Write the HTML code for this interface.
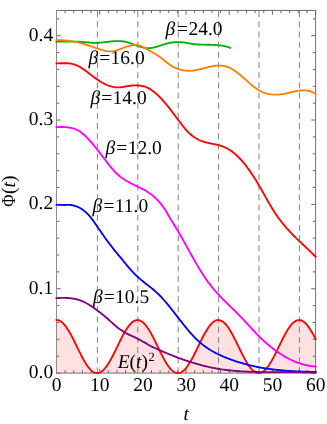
<!DOCTYPE html>
<html><head><meta charset="utf-8"><title>plot</title>
<style>
html,body{margin:0;padding:0;background:#fff;}
svg{display:block;will-change:transform;}
text{text-rendering:geometricPrecision;-webkit-font-smoothing:antialiased;font-family:"Liberation Serif",serif;font-size:19.5px;fill:#000;}
.it{font-style:italic;}
</style></head><body>
<svg width="327" height="424" viewBox="0 0 327 424">
<rect width="327" height="424" fill="#fff"/>

<path d="M56.50,320.05 L57.15,320.06 L57.80,320.14 L58.45,320.29 L59.10,320.50 L59.75,320.79 L60.40,321.13 L61.05,321.54 L61.69,322.02 L62.34,322.56 L62.99,323.16 L63.64,323.82 L64.29,324.54 L64.94,325.31 L65.59,326.14 L66.24,327.02 L66.89,327.95 L67.54,328.92 L68.19,329.95 L68.84,331.01 L69.49,332.11 L70.14,333.26 L70.79,334.43 L71.44,335.64 L72.08,336.87 L72.73,338.13 L73.38,339.41 L74.03,340.71 L74.68,342.02 L75.33,343.35 L75.98,344.68 L76.63,346.02 L77.28,347.36 L77.93,348.69 L78.58,350.03 L79.23,351.35 L79.88,352.66 L80.53,353.96 L81.18,355.23 L81.83,356.49 L82.47,357.72 L83.12,358.92 L83.77,360.09 L84.42,361.22 L85.07,362.32 L85.72,363.38 L86.37,364.39 L87.02,365.36 L87.67,366.28 L88.32,367.15 L88.97,367.97 L89.62,368.74 L90.27,369.44 L90.92,370.09 L91.57,370.68 L92.22,371.21 L92.86,371.67 L93.51,372.08 L94.16,372.41 L94.81,372.68 L95.46,372.89 L96.11,373.02 L96.76,373.09 L97.41,373.09 L98.06,373.03 L98.71,372.89 L99.36,372.69 L100.01,372.42 L100.66,372.09 L101.31,371.69 L101.96,371.23 L102.61,370.71 L103.25,370.12 L103.90,369.47 L104.55,368.77 L105.20,368.01 L105.85,367.19 L106.50,366.32 L107.15,365.40 L107.80,364.43 L108.45,363.42 L109.10,362.37 L109.75,361.27 L110.40,360.14 L111.05,358.97 L111.70,357.77 L112.35,356.54 L113.00,355.29 L113.64,354.01 L114.29,352.72 L114.94,351.41 L115.59,350.08 L116.24,348.75 L116.89,347.41 L117.54,346.07 L118.19,344.74 L118.84,343.40 L119.49,342.08 L120.14,340.76 L120.79,339.47 L121.44,338.18 L122.09,336.92 L122.74,335.69 L123.39,334.48 L124.03,333.31 L124.68,332.16 L125.33,331.06 L125.98,329.99 L126.63,328.97 L127.28,327.99 L127.93,327.06 L128.58,326.17 L129.23,325.34 L129.88,324.57 L130.53,323.85 L131.18,323.19 L131.83,322.58 L132.48,322.04 L133.13,321.56 L133.78,321.15 L134.42,320.80 L135.07,320.52 L135.72,320.30 L136.37,320.15 L137.02,320.06 L137.67,320.05 L138.32,320.10 L138.97,320.22 L139.62,320.40 L140.27,320.66 L140.92,320.98 L141.57,321.36 L142.22,321.81 L142.87,322.32 L143.52,322.89 L144.17,323.53 L144.81,324.22 L145.46,324.97 L146.11,325.78 L146.76,326.63 L147.41,327.54 L148.06,328.50 L148.71,329.50 L149.36,330.55 L150.01,331.64 L150.66,332.76 L151.31,333.92 L151.96,335.12 L152.61,336.34 L153.26,337.59 L153.91,338.86 L154.56,340.15 L155.20,341.46 L155.85,342.78 L156.50,344.11 L157.15,345.44 L157.80,346.78 L158.45,348.12 L159.10,349.46 L159.75,350.78 L160.40,352.10 L161.05,353.40 L161.70,354.69 L162.35,355.95 L163.00,357.19 L163.65,358.41 L164.30,359.59 L164.95,360.74 L165.59,361.85 L166.24,362.93 L166.89,363.96 L167.54,364.95 L168.19,365.89 L168.84,366.79 L169.49,367.63 L170.14,368.42 L170.79,369.15 L171.44,369.82 L172.09,370.44 L172.74,370.99 L173.39,371.48 L174.04,371.91 L174.69,372.28 L175.34,372.57 L175.98,372.81 L176.63,372.97 L177.28,373.07 L177.93,373.10 L178.58,373.06 L179.23,372.96 L179.88,372.79 L180.53,372.55 L181.18,372.24 L181.83,371.87 L182.48,371.44 L183.13,370.94 L183.78,370.38 L184.43,369.76 L185.08,369.08 L185.73,368.34 L186.37,367.55 L187.02,366.70 L187.67,365.80 L188.32,364.85 L188.97,363.86 L189.62,362.82 L190.27,361.74 L190.92,360.63 L191.57,359.47 L192.22,358.29 L192.87,357.07 L193.52,355.83 L194.17,354.56 L194.82,353.27 L195.47,351.97 L196.12,350.65 L196.76,349.32 L197.41,347.99 L198.06,346.65 L198.71,345.31 L199.36,343.97 L200.01,342.64 L200.66,341.32 L201.31,340.02 L201.96,338.73 L202.61,337.46 L203.26,336.21 L203.91,334.99 L204.56,333.80 L205.21,332.65 L205.86,331.53 L206.51,330.44 L207.15,329.40 L207.80,328.40 L208.45,327.45 L209.10,326.54 L209.75,325.69 L210.40,324.89 L211.05,324.15 L211.70,323.46 L212.35,322.83 L213.00,322.27 L213.65,321.76 L214.30,321.32 L214.95,320.94 L215.60,320.63 L216.25,320.38 L216.90,320.20 L217.54,320.09 L218.19,320.05 L218.84,320.07 L219.49,320.16 L220.14,320.32 L220.79,320.54 L221.44,320.83 L222.09,321.19 L222.74,321.61 L223.39,322.09 L224.04,322.64 L224.69,323.25 L225.34,323.92 L225.99,324.64 L226.64,325.43 L227.29,326.26 L227.93,327.15 L228.58,328.08 L229.23,329.07 L229.88,330.10 L230.53,331.17 L231.18,332.28 L231.83,333.42 L232.48,334.60 L233.13,335.81 L233.78,337.05 L234.43,338.31 L235.08,339.60 L235.73,340.90 L236.38,342.21 L237.03,343.54 L237.68,344.87 L238.32,346.21 L238.97,347.55 L239.62,348.89 L240.27,350.22 L240.92,351.54 L241.57,352.85 L242.22,354.14 L242.87,355.41 L243.52,356.67 L244.17,357.89 L244.82,359.09 L245.47,360.25 L246.12,361.38 L246.77,362.47 L247.42,363.53 L248.07,364.53 L248.71,365.50 L249.36,366.41 L250.01,367.27 L250.66,368.09 L251.31,368.84 L251.96,369.54 L252.61,370.18 L253.26,370.76 L253.91,371.28 L254.56,371.74 L255.21,372.13 L255.86,372.45 L256.51,372.72 L257.16,372.91 L257.81,373.04 L258.46,373.10 L259.10,373.09 L259.75,373.01 L260.40,372.87 L261.05,372.66 L261.70,372.38 L262.35,372.04 L263.00,371.63 L263.65,371.16 L264.30,370.62 L264.95,370.03 L265.60,369.37 L266.25,368.66 L266.90,367.89 L267.55,367.07 L268.20,366.19 L268.85,365.26 L269.49,364.29 L270.14,363.27 L270.79,362.21 L271.44,361.11 L272.09,359.97 L272.74,358.80 L273.39,357.59 L274.04,356.36 L274.69,355.10 L275.34,353.82 L275.99,352.53 L276.64,351.22 L277.29,349.89 L277.94,348.56 L278.59,347.22 L279.24,345.88 L279.88,344.54 L280.53,343.21 L281.18,341.89 L281.83,340.58 L282.48,339.28 L283.13,338.00 L283.78,336.74 L284.43,335.51 L285.08,334.31 L285.73,333.14 L286.38,332.00 L287.03,330.90 L287.68,329.84 L288.33,328.82 L288.98,327.85 L289.63,326.93 L290.27,326.05 L290.92,325.23 L291.57,324.46 L292.22,323.75 L292.87,323.10 L293.52,322.50 L294.17,321.97 L294.82,321.50 L295.47,321.09 L296.12,320.75 L296.77,320.48 L297.42,320.27 L298.07,320.13 L298.72,320.06 L299.37,320.05 L300.02,320.11 L300.66,320.24 L301.31,320.44 L301.96,320.70 L302.61,321.03 L303.26,321.42 L303.91,321.88 L304.56,322.40 L305.21,322.98 L305.86,323.63 L306.51,324.33 L307.16,325.08 L307.81,325.90 L308.46,326.76 L309.11,327.68 L309.76,328.64 L310.41,329.65 L311.05,330.70 L311.70,331.80 L312.35,332.93 L313.00,334.09 L313.65,335.29 L314.30,336.52 L314.95,337.77 L315.60,339.04 L315.60,373.10 L56.50,373.10 Z" fill="#ffe1e1" stroke="none"/>
<line x1="97.40" y1="373.40000000000003" x2="97.40" y2="10.4" stroke="#808080" stroke-width="1" stroke-dasharray="6,4.18"/>
<line x1="137.80" y1="373.40000000000003" x2="137.80" y2="10.4" stroke="#808080" stroke-width="1" stroke-dasharray="6,4.18"/>
<line x1="178.20" y1="373.40000000000003" x2="178.20" y2="10.4" stroke="#808080" stroke-width="1" stroke-dasharray="6,4.18"/>
<line x1="218.60" y1="373.40000000000003" x2="218.60" y2="10.4" stroke="#808080" stroke-width="1" stroke-dasharray="6,4.18"/>
<line x1="259.00" y1="373.40000000000003" x2="259.00" y2="10.4" stroke="#808080" stroke-width="1" stroke-dasharray="6,4.18"/>
<line x1="299.40" y1="373.40000000000003" x2="299.40" y2="10.4" stroke="#808080" stroke-width="1" stroke-dasharray="6,4.18"/>
<path d="M56.50,373.1 v-4.3 M56.50,10.4 v4.3 M65.14,373.1 v-2.8 M65.14,10.4 v2.8 M73.77,373.1 v-2.8 M73.77,10.4 v2.8 M82.41,373.1 v-2.8 M82.41,10.4 v2.8 M91.05,373.1 v-2.8 M91.05,10.4 v2.8 M99.68,373.1 v-4.3 M99.68,10.4 v4.3 M108.32,373.1 v-2.8 M108.32,10.4 v2.8 M116.96,373.1 v-2.8 M116.96,10.4 v2.8 M125.59,373.1 v-2.8 M125.59,10.4 v2.8 M134.23,373.1 v-2.8 M134.23,10.4 v2.8 M142.87,373.1 v-4.3 M142.87,10.4 v4.3 M151.50,373.1 v-2.8 M151.50,10.4 v2.8 M160.14,373.1 v-2.8 M160.14,10.4 v2.8 M168.78,373.1 v-2.8 M168.78,10.4 v2.8 M177.41,373.1 v-2.8 M177.41,10.4 v2.8 M186.05,373.1 v-4.3 M186.05,10.4 v4.3 M194.69,373.1 v-2.8 M194.69,10.4 v2.8 M203.32,373.1 v-2.8 M203.32,10.4 v2.8 M211.96,373.1 v-2.8 M211.96,10.4 v2.8 M220.60,373.1 v-2.8 M220.60,10.4 v2.8 M229.23,373.1 v-4.3 M229.23,10.4 v4.3 M237.87,373.1 v-2.8 M237.87,10.4 v2.8 M246.51,373.1 v-2.8 M246.51,10.4 v2.8 M255.14,373.1 v-2.8 M255.14,10.4 v2.8 M263.78,373.1 v-2.8 M263.78,10.4 v2.8 M272.42,373.1 v-4.3 M272.42,10.4 v4.3 M281.05,373.1 v-2.8 M281.05,10.4 v2.8 M289.69,373.1 v-2.8 M289.69,10.4 v2.8 M298.33,373.1 v-2.8 M298.33,10.4 v2.8 M306.96,373.1 v-2.8 M306.96,10.4 v2.8 M315.60,373.1 v-4.3 M315.60,10.4 v4.3 M56.5,373.10 h4.3 M315.6,373.10 h-4.3 M56.5,356.23 h2.8 M315.6,356.23 h-2.8 M56.5,339.36 h2.8 M315.6,339.36 h-2.8 M56.5,322.49 h2.8 M315.6,322.49 h-2.8 M56.5,305.62 h2.8 M315.6,305.62 h-2.8 M56.5,288.75 h4.3 M315.6,288.75 h-4.3 M56.5,271.88 h2.8 M315.6,271.88 h-2.8 M56.5,255.01 h2.8 M315.6,255.01 h-2.8 M56.5,238.14 h2.8 M315.6,238.14 h-2.8 M56.5,221.27 h2.8 M315.6,221.27 h-2.8 M56.5,204.40 h4.3 M315.6,204.40 h-4.3 M56.5,187.53 h2.8 M315.6,187.53 h-2.8 M56.5,170.66 h2.8 M315.6,170.66 h-2.8 M56.5,153.79 h2.8 M315.6,153.79 h-2.8 M56.5,136.92 h2.8 M315.6,136.92 h-2.8 M56.5,120.05 h4.3 M315.6,120.05 h-4.3 M56.5,103.18 h2.8 M315.6,103.18 h-2.8 M56.5,86.31 h2.8 M315.6,86.31 h-2.8 M56.5,69.44 h2.8 M315.6,69.44 h-2.8 M56.5,52.57 h2.8 M315.6,52.57 h-2.8 M56.5,35.70 h4.3 M315.6,35.70 h-4.3 M56.5,18.83 h2.8 M315.6,18.83 h-2.8" stroke="#555" stroke-width="0.9" fill="none"/>
<path d="M56.0,10.4 H316.1" stroke="#666" stroke-width="1" fill="none"/>
<path d="M315.6,10.4 V373.6" stroke="#707070" stroke-width="1" fill="none"/>
<path d="M56.5,10.4 V373.6" stroke="#8c8c8c" stroke-width="1" fill="none"/>
<path d="M56.0,373.1 H316.1" stroke="#707070" stroke-width="1" fill="none"/>
<path d="M56.50,320.05 L57.15,320.06 L57.80,320.14 L58.45,320.29 L59.10,320.50 L59.75,320.79 L60.40,321.13 L61.05,321.54 L61.69,322.02 L62.34,322.56 L62.99,323.16 L63.64,323.82 L64.29,324.54 L64.94,325.31 L65.59,326.14 L66.24,327.02 L66.89,327.95 L67.54,328.92 L68.19,329.95 L68.84,331.01 L69.49,332.11 L70.14,333.26 L70.79,334.43 L71.44,335.64 L72.08,336.87 L72.73,338.13 L73.38,339.41 L74.03,340.71 L74.68,342.02 L75.33,343.35 L75.98,344.68 L76.63,346.02 L77.28,347.36 L77.93,348.69 L78.58,350.03 L79.23,351.35 L79.88,352.66 L80.53,353.96 L81.18,355.23 L81.83,356.49 L82.47,357.72 L83.12,358.92 L83.77,360.09 L84.42,361.22 L85.07,362.32 L85.72,363.38 L86.37,364.39 L87.02,365.36 L87.67,366.28 L88.32,367.15 L88.97,367.97 L89.62,368.74 L90.27,369.44 L90.92,370.09 L91.57,370.68 L92.22,371.21 L92.86,371.67 L93.51,372.08 L94.16,372.41 L94.81,372.68 L95.46,372.89 L96.11,373.02 L96.76,373.09 L97.41,373.09 L98.06,373.03 L98.71,372.89 L99.36,372.69 L100.01,372.42 L100.66,372.09 L101.31,371.69 L101.96,371.23 L102.61,370.71 L103.25,370.12 L103.90,369.47 L104.55,368.77 L105.20,368.01 L105.85,367.19 L106.50,366.32 L107.15,365.40 L107.80,364.43 L108.45,363.42 L109.10,362.37 L109.75,361.27 L110.40,360.14 L111.05,358.97 L111.70,357.77 L112.35,356.54 L113.00,355.29 L113.64,354.01 L114.29,352.72 L114.94,351.41 L115.59,350.08 L116.24,348.75 L116.89,347.41 L117.54,346.07 L118.19,344.74 L118.84,343.40 L119.49,342.08 L120.14,340.76 L120.79,339.47 L121.44,338.18 L122.09,336.92 L122.74,335.69 L123.39,334.48 L124.03,333.31 L124.68,332.16 L125.33,331.06 L125.98,329.99 L126.63,328.97 L127.28,327.99 L127.93,327.06 L128.58,326.17 L129.23,325.34 L129.88,324.57 L130.53,323.85 L131.18,323.19 L131.83,322.58 L132.48,322.04 L133.13,321.56 L133.78,321.15 L134.42,320.80 L135.07,320.52 L135.72,320.30 L136.37,320.15 L137.02,320.06 L137.67,320.05 L138.32,320.10 L138.97,320.22 L139.62,320.40 L140.27,320.66 L140.92,320.98 L141.57,321.36 L142.22,321.81 L142.87,322.32 L143.52,322.89 L144.17,323.53 L144.81,324.22 L145.46,324.97 L146.11,325.78 L146.76,326.63 L147.41,327.54 L148.06,328.50 L148.71,329.50 L149.36,330.55 L150.01,331.64 L150.66,332.76 L151.31,333.92 L151.96,335.12 L152.61,336.34 L153.26,337.59 L153.91,338.86 L154.56,340.15 L155.20,341.46 L155.85,342.78 L156.50,344.11 L157.15,345.44 L157.80,346.78 L158.45,348.12 L159.10,349.46 L159.75,350.78 L160.40,352.10 L161.05,353.40 L161.70,354.69 L162.35,355.95 L163.00,357.19 L163.65,358.41 L164.30,359.59 L164.95,360.74 L165.59,361.85 L166.24,362.93 L166.89,363.96 L167.54,364.95 L168.19,365.89 L168.84,366.79 L169.49,367.63 L170.14,368.42 L170.79,369.15 L171.44,369.82 L172.09,370.44 L172.74,370.99 L173.39,371.48 L174.04,371.91 L174.69,372.28 L175.34,372.57 L175.98,372.81 L176.63,372.97 L177.28,373.07 L177.93,373.10 L178.58,373.06 L179.23,372.96 L179.88,372.79 L180.53,372.55 L181.18,372.24 L181.83,371.87 L182.48,371.44 L183.13,370.94 L183.78,370.38 L184.43,369.76 L185.08,369.08 L185.73,368.34 L186.37,367.55 L187.02,366.70 L187.67,365.80 L188.32,364.85 L188.97,363.86 L189.62,362.82 L190.27,361.74 L190.92,360.63 L191.57,359.47 L192.22,358.29 L192.87,357.07 L193.52,355.83 L194.17,354.56 L194.82,353.27 L195.47,351.97 L196.12,350.65 L196.76,349.32 L197.41,347.99 L198.06,346.65 L198.71,345.31 L199.36,343.97 L200.01,342.64 L200.66,341.32 L201.31,340.02 L201.96,338.73 L202.61,337.46 L203.26,336.21 L203.91,334.99 L204.56,333.80 L205.21,332.65 L205.86,331.53 L206.51,330.44 L207.15,329.40 L207.80,328.40 L208.45,327.45 L209.10,326.54 L209.75,325.69 L210.40,324.89 L211.05,324.15 L211.70,323.46 L212.35,322.83 L213.00,322.27 L213.65,321.76 L214.30,321.32 L214.95,320.94 L215.60,320.63 L216.25,320.38 L216.90,320.20 L217.54,320.09 L218.19,320.05 L218.84,320.07 L219.49,320.16 L220.14,320.32 L220.79,320.54 L221.44,320.83 L222.09,321.19 L222.74,321.61 L223.39,322.09 L224.04,322.64 L224.69,323.25 L225.34,323.92 L225.99,324.64 L226.64,325.43 L227.29,326.26 L227.93,327.15 L228.58,328.08 L229.23,329.07 L229.88,330.10 L230.53,331.17 L231.18,332.28 L231.83,333.42 L232.48,334.60 L233.13,335.81 L233.78,337.05 L234.43,338.31 L235.08,339.60 L235.73,340.90 L236.38,342.21 L237.03,343.54 L237.68,344.87 L238.32,346.21 L238.97,347.55 L239.62,348.89 L240.27,350.22 L240.92,351.54 L241.57,352.85 L242.22,354.14 L242.87,355.41 L243.52,356.67 L244.17,357.89 L244.82,359.09 L245.47,360.25 L246.12,361.38 L246.77,362.47 L247.42,363.53 L248.07,364.53 L248.71,365.50 L249.36,366.41 L250.01,367.27 L250.66,368.09 L251.31,368.84 L251.96,369.54 L252.61,370.18 L253.26,370.76 L253.91,371.28 L254.56,371.74 L255.21,372.13 L255.86,372.45 L256.51,372.72 L257.16,372.91 L257.81,373.04 L258.46,373.10 L259.10,373.09 L259.75,373.01 L260.40,372.87 L261.05,372.66 L261.70,372.38 L262.35,372.04 L263.00,371.63 L263.65,371.16 L264.30,370.62 L264.95,370.03 L265.60,369.37 L266.25,368.66 L266.90,367.89 L267.55,367.07 L268.20,366.19 L268.85,365.26 L269.49,364.29 L270.14,363.27 L270.79,362.21 L271.44,361.11 L272.09,359.97 L272.74,358.80 L273.39,357.59 L274.04,356.36 L274.69,355.10 L275.34,353.82 L275.99,352.53 L276.64,351.22 L277.29,349.89 L277.94,348.56 L278.59,347.22 L279.24,345.88 L279.88,344.54 L280.53,343.21 L281.18,341.89 L281.83,340.58 L282.48,339.28 L283.13,338.00 L283.78,336.74 L284.43,335.51 L285.08,334.31 L285.73,333.14 L286.38,332.00 L287.03,330.90 L287.68,329.84 L288.33,328.82 L288.98,327.85 L289.63,326.93 L290.27,326.05 L290.92,325.23 L291.57,324.46 L292.22,323.75 L292.87,323.10 L293.52,322.50 L294.17,321.97 L294.82,321.50 L295.47,321.09 L296.12,320.75 L296.77,320.48 L297.42,320.27 L298.07,320.13 L298.72,320.06 L299.37,320.05 L300.02,320.11 L300.66,320.24 L301.31,320.44 L301.96,320.70 L302.61,321.03 L303.26,321.42 L303.91,321.88 L304.56,322.40 L305.21,322.98 L305.86,323.63 L306.51,324.33 L307.16,325.08 L307.81,325.90 L308.46,326.76 L309.11,327.68 L309.76,328.64 L310.41,329.65 L311.05,330.70 L311.70,331.80 L312.35,332.93 L313.00,334.09 L313.65,335.29 L314.30,336.52 L314.95,337.77 L315.60,339.04" fill="none" stroke="#ff0000" stroke-width="1.85" stroke-linejoin="round" stroke-linecap="square"/>
<path d="M56.50,41.71 L57.08,41.71 L57.66,41.70 L58.24,41.69 L58.82,41.69 L59.40,41.68 L59.99,41.67 L60.57,41.66 L61.15,41.65 L61.73,41.64 L62.31,41.64 L62.89,41.63 L63.47,41.62 L64.05,41.61 L64.63,41.60 L65.21,41.59 L65.79,41.58 L66.38,41.58 L66.96,41.57 L67.54,41.56 L68.12,41.56 L68.70,41.56 L69.28,41.55 L69.86,41.55 L70.44,41.55 L71.02,41.55 L71.60,41.55 L72.19,41.56 L72.77,41.56 L73.35,41.57 L73.93,41.58 L74.51,41.59 L75.09,41.61 L75.67,41.62 L76.25,41.64 L76.83,41.66 L77.41,41.68 L77.99,41.71 L78.58,41.74 L79.16,41.77 L79.74,41.80 L80.32,41.84 L80.90,41.88 L81.48,41.92 L82.06,41.96 L82.64,42.01 L83.22,42.06 L83.80,42.11 L84.38,42.16 L84.97,42.21 L85.55,42.26 L86.13,42.31 L86.71,42.36 L87.29,42.40 L87.87,42.45 L88.45,42.50 L89.03,42.54 L89.61,42.59 L90.19,42.63 L90.78,42.67 L91.36,42.70 L91.94,42.73 L92.52,42.76 L93.10,42.78 L93.68,42.80 L94.26,42.82 L94.84,42.83 L95.42,42.83 L96.00,42.83 L96.58,42.82 L97.17,42.81 L97.75,42.79 L98.33,42.77 L98.91,42.73 L99.49,42.70 L100.07,42.66 L100.65,42.61 L101.23,42.56 L101.81,42.51 L102.39,42.45 L102.97,42.39 L103.56,42.32 L104.14,42.26 L104.72,42.19 L105.30,42.12 L105.88,42.05 L106.46,41.98 L107.04,41.91 L107.62,41.84 L108.20,41.77 L108.78,41.70 L109.37,41.64 L109.95,41.57 L110.53,41.51 L111.11,41.45 L111.69,41.39 L112.27,41.33 L112.85,41.28 L113.43,41.23 L114.01,41.19 L114.59,41.15 L115.17,41.12 L115.76,41.09 L116.34,41.07 L116.92,41.06 L117.50,41.05 L118.08,41.05 L118.66,41.06 L119.24,41.07 L119.82,41.10 L120.40,41.13 L120.98,41.17 L121.56,41.22 L122.15,41.28 L122.73,41.36 L123.31,41.44 L123.89,41.53 L124.47,41.64 L125.05,41.75 L125.63,41.88 L126.21,42.02 L126.79,42.17 L127.37,42.33 L127.96,42.50 L128.54,42.67 L129.12,42.86 L129.70,43.05 L130.28,43.24 L130.86,43.44 L131.44,43.65 L132.02,43.86 L132.60,44.07 L133.18,44.28 L133.76,44.50 L134.35,44.71 L134.93,44.93 L135.51,45.14 L136.09,45.36 L136.67,45.57 L137.25,45.77 L137.83,45.98 L138.41,46.18 L138.99,46.37 L139.57,46.56 L140.15,46.74 L140.74,46.92 L141.32,47.08 L141.90,47.24 L142.48,47.39 L143.06,47.53 L143.64,47.65 L144.22,47.77 L144.80,47.87 L145.38,47.96 L145.96,48.03 L146.55,48.09 L147.13,48.14 L147.71,48.17 L148.29,48.18 L148.87,48.17 L149.45,48.15 L150.03,48.11 L150.61,48.05 L151.19,47.98 L151.77,47.90 L152.35,47.80 L152.94,47.69 L153.52,47.57 L154.10,47.44 L154.68,47.30 L155.26,47.15 L155.84,46.99 L156.42,46.82 L157.00,46.65 L157.58,46.47 L158.16,46.29 L158.74,46.10 L159.33,45.91 L159.91,45.72 L160.49,45.53 L161.07,45.34 L161.65,45.14 L162.23,44.95 L162.81,44.76 L163.39,44.58 L163.97,44.39 L164.55,44.21 L165.14,44.04 L165.72,43.87 L166.30,43.71 L166.88,43.56 L167.46,43.42 L168.04,43.28 L168.62,43.15 L169.20,43.03 L169.78,42.92 L170.36,42.81 L170.94,42.71 L171.53,42.62 L172.11,42.53 L172.69,42.46 L173.27,42.39 L173.85,42.33 L174.43,42.27 L175.01,42.23 L175.59,42.19 L176.17,42.16 L176.75,42.14 L177.33,42.12 L177.92,42.11 L178.50,42.11 L179.08,42.12 L179.66,42.13 L180.24,42.16 L180.82,42.19 L181.40,42.22 L181.98,42.27 L182.56,42.32 L183.14,42.38 L183.73,42.45 L184.31,42.53 L184.89,42.61 L185.47,42.70 L186.05,42.79 L186.63,42.89 L187.21,42.99 L187.79,43.10 L188.37,43.20 L188.95,43.31 L189.53,43.41 L190.12,43.52 L190.70,43.62 L191.28,43.72 L191.86,43.81 L192.44,43.90 L193.02,43.98 L193.60,44.05 L194.18,44.12 L194.76,44.19 L195.34,44.25 L195.92,44.30 L196.51,44.35 L197.09,44.40 L197.67,44.44 L198.25,44.48 L198.83,44.51 L199.41,44.54 L199.99,44.57 L200.57,44.59 L201.15,44.61 L201.73,44.63 L202.32,44.65 L202.90,44.66 L203.48,44.67 L204.06,44.69 L204.64,44.70 L205.22,44.71 L205.80,44.72 L206.38,44.72 L206.96,44.73 L207.54,44.74 L208.12,44.75 L208.71,44.76 L209.29,44.77 L209.87,44.78 L210.45,44.79 L211.03,44.81 L211.61,44.82 L212.19,44.84 L212.77,44.86 L213.35,44.88 L213.93,44.91 L214.51,44.94 L215.10,44.97 L215.68,45.01 L216.26,45.05 L216.84,45.09 L217.42,45.14 L218.00,45.19 L218.58,45.25 L219.16,45.31 L219.74,45.38 L220.32,45.45 L220.91,45.53 L221.49,45.61 L222.07,45.71 L222.65,45.80 L223.23,45.91 L223.81,46.02 L224.39,46.14 L224.97,46.27 L225.55,46.40 L226.13,46.54 L226.71,46.69 L227.30,46.85 L227.88,47.02 L228.46,47.20 L229.04,47.38 L229.62,47.58 L230.20,47.79" fill="none" stroke="#00b000" stroke-width="1.85" stroke-linejoin="round" stroke-linecap="square"/>
<path d="M56.50,40.07 L57.37,40.08 L58.23,40.09 L59.10,40.12 L59.97,40.15 L60.83,40.18 L61.70,40.23 L62.57,40.28 L63.43,40.34 L64.30,40.40 L65.17,40.47 L66.03,40.55 L66.90,40.63 L67.77,40.73 L68.63,40.82 L69.50,40.93 L70.36,41.04 L71.23,41.16 L72.10,41.28 L72.96,41.41 L73.83,41.55 L74.70,41.69 L75.56,41.84 L76.43,42.02 L77.30,42.22 L78.16,42.43 L79.03,42.67 L79.90,42.91 L80.76,43.17 L81.63,43.43 L82.50,43.69 L83.36,43.96 L84.23,44.22 L85.10,44.48 L85.96,44.74 L86.83,44.99 L87.70,45.25 L88.56,45.52 L89.43,45.79 L90.30,46.06 L91.16,46.34 L92.03,46.63 L92.90,46.92 L93.76,47.21 L94.63,47.51 L95.49,47.81 L96.36,48.11 L97.23,48.41 L98.09,48.72 L98.96,49.03 L99.83,49.33 L100.69,49.62 L101.56,49.90 L102.43,50.16 L103.29,50.41 L104.16,50.63 L105.03,50.83 L105.89,51.00 L106.76,51.13 L107.63,51.24 L108.49,51.30 L109.36,51.35 L110.23,51.37 L111.09,51.35 L111.96,51.31 L112.83,51.22 L113.69,51.10 L114.56,50.92 L115.43,50.70 L116.29,50.45 L117.16,50.18 L118.03,49.88 L118.89,49.57 L119.76,49.24 L120.63,48.91 L121.49,48.58 L122.36,48.24 L123.22,47.91 L124.09,47.58 L124.96,47.27 L125.82,46.98 L126.69,46.70 L127.56,46.44 L128.42,46.19 L129.29,45.95 L130.16,45.73 L131.02,45.53 L131.89,45.35 L132.76,45.21 L133.62,45.09 L134.49,45.02 L135.36,44.99 L136.22,45.01 L137.09,45.08 L137.96,45.21 L138.82,45.39 L139.69,45.63 L140.56,45.91 L141.42,46.23 L142.29,46.60 L143.16,47.00 L144.02,47.44 L144.89,47.91 L145.76,48.41 L146.62,48.93 L147.49,49.47 L148.35,50.01 L149.22,50.54 L150.09,51.04 L150.95,51.54 L151.82,52.02 L152.69,52.49 L153.55,52.97 L154.42,53.45 L155.29,53.95 L156.15,54.46 L157.02,55.00 L157.89,55.56 L158.75,56.16 L159.62,56.79 L160.49,57.47 L161.35,58.18 L162.22,58.88 L163.09,59.57 L163.95,60.26 L164.82,60.93 L165.69,61.60 L166.55,62.26 L167.42,62.92 L168.29,63.56 L169.15,64.21 L170.02,64.84 L170.89,65.48 L171.75,66.11 L172.62,66.61 L173.48,67.03 L174.35,67.43 L175.22,67.81 L176.08,68.17 L176.95,68.51 L177.82,68.82 L178.68,69.11 L179.55,69.38 L180.42,69.62 L181.28,69.85 L182.15,70.05 L183.02,70.22 L183.88,70.38 L184.75,70.51 L185.62,70.61 L186.48,70.69 L187.35,70.75 L188.22,70.79 L189.08,70.80 L189.95,70.79 L190.82,70.75 L191.68,70.69 L192.55,70.61 L193.42,70.51 L194.28,70.39 L195.15,70.25 L196.02,70.10 L196.88,69.94 L197.75,69.76 L198.62,69.57 L199.48,69.38 L200.35,69.17 L201.21,68.96 L202.08,68.74 L202.95,68.52 L203.81,68.30 L204.68,68.07 L205.55,67.85 L206.41,67.63 L207.28,67.41 L208.15,67.20 L209.01,67.00 L209.88,66.80 L210.75,66.61 L211.61,66.44 L212.48,66.27 L213.35,66.12 L214.21,65.99 L215.08,65.87 L215.95,65.77 L216.81,65.69 L217.68,65.63 L218.55,65.60 L219.41,65.59 L220.28,65.60 L221.15,65.64 L222.01,65.71 L222.88,65.81 L223.75,65.94 L224.61,66.10 L225.48,66.30 L226.34,66.53 L227.21,66.81 L228.08,67.11 L228.94,67.46 L229.81,67.86 L230.68,68.29 L231.54,68.75 L232.41,69.26 L233.28,69.79 L234.14,70.36 L235.01,70.96 L235.88,71.58 L236.74,72.23 L237.61,72.90 L238.48,73.59 L239.34,74.29 L240.21,75.02 L241.08,75.75 L241.94,76.50 L242.81,77.26 L243.68,78.02 L244.54,78.79 L245.41,79.56 L246.28,80.33 L247.14,81.10 L248.01,81.86 L248.88,82.62 L249.74,83.37 L250.61,84.11 L251.47,84.84 L252.34,85.55 L253.21,86.25 L254.07,86.92 L254.94,87.58 L255.81,88.21 L256.67,88.81 L257.54,89.39 L258.41,89.94 L259.27,90.45 L260.14,90.93 L261.01,91.38 L261.87,91.79 L262.74,92.17 L263.61,92.52 L264.47,92.84 L265.34,93.13 L266.21,93.40 L267.07,93.63 L267.94,93.84 L268.81,94.02 L269.67,94.17 L270.54,94.31 L271.41,94.41 L272.27,94.50 L273.14,94.56 L274.01,94.60 L274.87,94.63 L275.74,94.63 L276.61,94.61 L277.47,94.58 L278.34,94.52 L279.20,94.46 L280.07,94.37 L280.94,94.28 L281.80,94.16 L282.67,94.04 L283.54,93.90 L284.40,93.75 L285.27,93.60 L286.14,93.43 L287.00,93.25 L287.87,93.06 L288.74,92.87 L289.60,92.67 L290.47,92.47 L291.34,92.27 L292.20,92.06 L293.07,91.86 L293.94,91.66 L294.80,91.47 L295.67,91.28 L296.54,91.11 L297.40,90.95 L298.27,90.80 L299.14,90.67 L300.00,90.56 L300.87,90.47 L301.74,90.40 L302.60,90.35 L303.47,90.33 L304.33,90.34 L305.20,90.39 L306.07,90.46 L306.93,90.57 L307.80,90.71 L308.67,90.90 L309.53,91.13 L310.40,91.39 L311.27,91.71 L312.13,92.07 L313.00,92.48 L313.87,92.94 L314.73,93.46 L315.60,94.03" fill="none" stroke="#ff8000" stroke-width="1.85" stroke-linejoin="round" stroke-linecap="square"/>
<path d="M56.50,63.45 L57.37,63.42 L58.23,63.38 L59.10,63.35 L59.97,63.32 L60.83,63.29 L61.70,63.26 L62.57,63.24 L63.43,63.23 L64.30,63.22 L65.17,63.23 L66.03,63.25 L66.90,63.27 L67.77,63.30 L68.63,63.34 L69.50,63.42 L70.36,63.53 L71.23,63.68 L72.10,63.86 L72.96,64.07 L73.83,64.31 L74.70,64.58 L75.56,64.89 L76.43,65.23 L77.30,65.60 L78.16,66.01 L79.03,66.45 L79.90,66.93 L80.76,67.44 L81.63,67.98 L82.50,68.56 L83.36,69.15 L84.23,69.76 L85.10,70.39 L85.96,71.03 L86.83,71.68 L87.70,72.35 L88.56,73.02 L89.43,73.69 L90.30,74.36 L91.16,75.03 L92.03,75.69 L92.90,76.35 L93.76,77.00 L94.63,77.63 L95.49,78.26 L96.36,78.87 L97.23,79.47 L98.09,80.05 L98.96,80.61 L99.83,81.16 L100.69,81.70 L101.56,82.22 L102.43,82.72 L103.29,83.20 L104.16,83.66 L105.03,84.10 L105.89,84.52 L106.76,84.91 L107.63,85.28 L108.49,85.62 L109.36,85.93 L110.23,86.22 L111.09,86.48 L111.96,86.71 L112.83,86.91 L113.69,87.08 L114.56,87.21 L115.43,87.31 L116.29,87.38 L117.16,87.41 L118.03,87.41 L118.89,87.38 L119.76,87.33 L120.63,87.26 L121.49,87.16 L122.36,87.05 L123.22,86.92 L124.09,86.78 L124.96,86.64 L125.82,86.48 L126.69,86.33 L127.56,86.18 L128.42,86.03 L129.29,85.89 L130.16,85.76 L131.02,85.64 L131.89,85.54 L132.76,85.46 L133.62,85.40 L134.49,85.36 L135.36,85.36 L136.22,85.38 L137.09,85.42 L137.96,85.47 L138.82,85.54 L139.69,85.63 L140.56,85.74 L141.42,85.87 L142.29,86.04 L143.16,86.22 L144.02,86.45 L144.89,86.70 L145.76,87.00 L146.62,87.33 L147.49,87.71 L148.35,88.13 L149.22,88.60 L150.09,89.12 L150.95,89.68 L151.82,90.27 L152.69,90.88 L153.55,91.53 L154.42,92.21 L155.29,92.92 L156.15,93.66 L157.02,94.43 L157.89,95.23 L158.75,96.06 L159.62,96.92 L160.49,97.81 L161.35,98.72 L162.22,99.66 L163.09,100.62 L163.95,101.60 L164.82,102.61 L165.69,103.63 L166.55,104.68 L167.42,105.74 L168.29,106.83 L169.15,107.92 L170.02,109.03 L170.89,110.15 L171.75,111.29 L172.62,112.44 L173.48,113.60 L174.35,114.77 L175.22,115.94 L176.08,117.10 L176.95,118.26 L177.82,119.42 L178.68,120.56 L179.55,121.70 L180.42,122.84 L181.28,123.98 L182.15,125.09 L183.02,126.20 L183.88,127.27 L184.75,128.32 L185.62,129.33 L186.48,130.31 L187.35,131.23 L188.22,132.11 L189.08,132.94 L189.95,133.74 L190.82,134.50 L191.68,135.22 L192.55,135.91 L193.42,136.56 L194.28,137.17 L195.15,137.75 L196.02,138.29 L196.88,138.80 L197.75,139.28 L198.62,139.72 L199.48,140.13 L200.35,140.50 L201.21,140.84 L202.08,141.17 L202.95,141.47 L203.81,141.75 L204.68,142.02 L205.55,142.27 L206.41,142.50 L207.28,142.73 L208.15,142.94 L209.01,143.13 L209.88,143.32 L210.75,143.51 L211.61,143.68 L212.48,143.85 L213.35,144.01 L214.21,144.17 L215.08,144.33 L215.95,144.49 L216.81,144.65 L217.68,144.81 L218.55,145.04 L219.41,145.31 L220.28,145.59 L221.15,145.89 L222.01,146.21 L222.88,146.55 L223.75,146.90 L224.61,147.27 L225.48,147.67 L226.34,148.09 L227.21,148.54 L228.08,149.01 L228.94,149.51 L229.81,150.04 L230.68,150.60 L231.54,151.20 L232.41,151.83 L233.28,152.49 L234.14,153.18 L235.01,153.91 L235.88,154.67 L236.74,155.46 L237.61,156.29 L238.48,157.14 L239.34,158.02 L240.21,158.94 L241.08,159.88 L241.94,160.86 L242.81,161.86 L243.68,162.89 L244.54,163.95 L245.41,165.04 L246.28,166.15 L247.14,167.29 L248.01,168.46 L248.88,169.66 L249.74,170.88 L250.61,172.12 L251.47,173.39 L252.34,174.69 L253.21,176.01 L254.07,177.35 L254.94,178.72 L255.81,180.11 L256.67,181.52 L257.54,182.96 L258.41,184.42 L259.27,185.89 L260.14,187.39 L261.01,188.91 L261.87,190.43 L262.74,191.97 L263.61,193.51 L264.47,195.06 L265.34,196.60 L266.21,198.14 L267.07,199.68 L267.94,201.20 L268.81,202.71 L269.67,204.21 L270.54,205.68 L271.41,207.13 L272.27,208.55 L273.14,209.95 L274.01,211.31 L274.87,212.64 L275.74,213.94 L276.61,215.21 L277.47,216.46 L278.34,217.67 L279.20,218.86 L280.07,220.03 L280.94,221.16 L281.80,222.28 L282.67,223.37 L283.54,224.44 L284.40,225.49 L285.27,226.52 L286.14,227.53 L287.00,228.52 L287.87,229.49 L288.74,230.45 L289.60,231.39 L290.47,232.31 L291.34,233.23 L292.20,234.13 L293.07,235.01 L293.94,235.89 L294.80,236.75 L295.67,237.61 L296.54,238.46 L297.40,239.30 L298.27,240.13 L299.14,240.96 L300.00,241.78 L300.87,242.60 L301.74,243.42 L302.60,244.23 L303.47,245.04 L304.33,245.85 L305.20,246.67 L306.07,247.48 L306.93,248.30 L307.80,249.12 L308.67,249.94 L309.53,250.77 L310.40,251.60 L311.27,252.45 L312.13,253.30 L313.00,254.15 L313.87,255.02 L314.73,255.90 L315.60,256.79" fill="none" stroke="#ff0000" stroke-width="1.85" stroke-linejoin="round" stroke-linecap="square"/>
<path d="M56.50,127.20 L57.37,127.16 L58.23,127.12 L59.10,127.08 L59.97,127.05 L60.83,127.03 L61.70,127.02 L62.57,127.02 L63.43,127.03 L64.30,127.05 L65.17,127.09 L66.03,127.15 L66.90,127.22 L67.77,127.31 L68.63,127.43 L69.50,127.57 L70.36,127.73 L71.23,127.92 L72.10,128.13 L72.96,128.36 L73.83,128.63 L74.70,128.93 L75.56,129.26 L76.43,129.64 L77.30,130.05 L78.16,130.51 L79.03,131.02 L79.90,131.57 L80.76,132.16 L81.63,132.79 L82.50,133.47 L83.36,134.19 L84.23,134.95 L85.10,135.75 L85.96,136.58 L86.83,137.44 L87.70,138.33 L88.56,139.25 L89.43,140.20 L90.30,141.18 L91.16,142.17 L92.03,143.19 L92.90,144.22 L93.76,145.27 L94.63,146.33 L95.49,147.40 L96.36,148.48 L97.23,149.57 L98.09,150.67 L98.96,151.78 L99.83,152.89 L100.69,154.01 L101.56,155.14 L102.43,156.27 L103.29,157.40 L104.16,158.53 L105.03,159.67 L105.89,160.81 L106.76,161.94 L107.63,163.06 L108.49,164.17 L109.36,165.27 L110.23,166.34 L111.09,167.40 L111.96,168.44 L112.83,169.46 L113.69,170.46 L114.56,171.43 L115.43,172.37 L116.29,173.27 L117.16,174.06 L118.03,174.76 L118.89,175.45 L119.76,176.18 L120.63,176.89 L121.49,177.56 L122.36,178.20 L123.22,178.81 L124.09,179.39 L124.96,179.95 L125.82,180.47 L126.69,180.98 L127.56,181.47 L128.42,181.94 L129.29,182.40 L130.16,182.86 L131.02,183.31 L131.89,183.77 L132.76,184.21 L133.62,184.65 L134.49,185.08 L135.36,185.51 L136.22,185.93 L137.09,186.34 L137.96,186.75 L138.82,187.16 L139.69,187.58 L140.56,188.01 L141.42,188.44 L142.29,188.89 L143.16,189.35 L144.02,189.82 L144.89,190.31 L145.76,190.81 L146.62,191.32 L147.49,191.86 L148.35,192.41 L149.22,192.99 L150.09,193.59 L150.95,194.22 L151.82,194.88 L152.69,195.57 L153.55,196.28 L154.42,197.03 L155.29,197.81 L156.15,198.62 L157.02,199.48 L157.89,200.38 L158.75,201.32 L159.62,202.31 L160.49,203.35 L161.35,204.44 L162.22,205.57 L163.09,206.74 L163.95,207.96 L164.82,209.21 L165.69,210.54 L166.55,211.99 L167.42,213.51 L168.29,215.05 L169.15,216.56 L170.02,217.99 L170.89,219.37 L171.75,220.77 L172.62,222.18 L173.48,223.61 L174.35,225.05 L175.22,226.49 L176.08,227.94 L176.95,229.38 L177.82,230.82 L178.68,232.26 L179.55,233.69 L180.42,235.17 L181.28,236.72 L182.15,238.27 L183.02,239.84 L183.88,241.40 L184.75,242.97 L185.62,244.55 L186.48,246.12 L187.35,247.69 L188.22,249.26 L189.08,250.83 L189.95,252.39 L190.82,253.95 L191.68,255.50 L192.55,257.04 L193.42,258.57 L194.28,260.10 L195.15,261.61 L196.02,263.11 L196.88,264.59 L197.75,266.06 L198.62,267.52 L199.48,268.95 L200.35,270.37 L201.21,271.77 L202.08,273.15 L202.95,274.50 L203.81,275.84 L204.68,277.14 L205.55,278.43 L206.41,279.68 L207.28,280.91 L208.15,282.11 L209.01,283.28 L209.88,284.42 L210.75,285.54 L211.61,286.64 L212.48,287.71 L213.35,288.76 L214.21,289.79 L215.08,290.80 L215.95,291.79 L216.81,292.76 L217.68,293.72 L218.55,294.66 L219.41,295.59 L220.28,296.50 L221.15,297.40 L222.01,298.29 L222.88,299.17 L223.75,300.04 L224.61,300.90 L225.48,301.76 L226.34,302.61 L227.21,303.45 L228.08,304.29 L228.94,305.13 L229.81,305.97 L230.68,306.80 L231.54,307.64 L232.41,308.48 L233.28,309.32 L234.14,310.17 L235.01,311.02 L235.88,311.87 L236.74,312.74 L237.61,313.61 L238.48,314.49 L239.34,315.38 L240.21,316.28 L241.08,317.19 L241.94,318.11 L242.81,319.03 L243.68,319.96 L244.54,320.89 L245.41,321.83 L246.28,322.77 L247.14,323.71 L248.01,324.65 L248.88,325.59 L249.74,326.53 L250.61,327.47 L251.47,328.40 L252.34,329.34 L253.21,330.26 L254.07,331.18 L254.94,332.10 L255.81,333.00 L256.67,333.90 L257.54,334.79 L258.41,335.67 L259.27,336.53 L260.14,337.38 L261.01,338.23 L261.87,339.06 L262.74,339.87 L263.61,340.68 L264.47,341.47 L265.34,342.25 L266.21,343.02 L267.07,343.78 L267.94,344.52 L268.81,345.26 L269.67,345.98 L270.54,346.68 L271.41,347.38 L272.27,348.06 L273.14,348.73 L274.01,349.39 L274.87,350.04 L275.74,350.67 L276.61,351.30 L277.47,351.91 L278.34,352.51 L279.20,353.09 L280.07,353.67 L280.94,354.23 L281.80,354.78 L282.67,355.31 L283.54,355.84 L284.40,356.35 L285.27,356.85 L286.14,357.34 L287.00,357.81 L287.87,358.28 L288.74,358.73 L289.60,359.17 L290.47,359.59 L291.34,360.01 L292.20,360.41 L293.07,360.80 L293.94,361.17 L294.80,361.54 L295.67,361.89 L296.54,362.23 L297.40,362.56 L298.27,362.87 L299.14,363.18 L300.00,363.47 L300.87,363.74 L301.74,364.01 L302.60,364.26 L303.47,364.51 L304.33,364.73 L305.20,364.95 L306.07,365.15 L306.93,365.35 L307.80,365.52 L308.67,365.69 L309.53,365.85 L310.40,365.99 L311.27,366.12 L312.13,366.23 L313.00,366.34 L313.87,366.43 L314.73,366.51 L315.60,366.58" fill="none" stroke="#ff00ff" stroke-width="1.85" stroke-linejoin="round" stroke-linecap="square"/>
<path d="M56.50,204.89 L57.37,204.89 L58.23,204.90 L59.10,204.90 L59.97,204.90 L60.83,204.91 L61.70,204.92 L62.57,204.94 L63.43,204.97 L64.30,204.97 L65.17,204.96 L66.03,204.93 L66.90,204.90 L67.77,204.88 L68.63,204.88 L69.50,204.89 L70.36,204.94 L71.23,205.03 L72.10,205.17 L72.96,205.35 L73.83,205.57 L74.70,205.81 L75.56,206.08 L76.43,206.39 L77.30,206.72 L78.16,207.10 L79.03,207.51 L79.90,207.96 L80.76,208.45 L81.63,208.99 L82.50,209.57 L83.36,210.20 L84.23,210.88 L85.10,211.60 L85.96,212.37 L86.83,213.19 L87.70,214.06 L88.56,214.97 L89.43,215.94 L90.30,216.95 L91.16,218.01 L92.03,219.11 L92.90,220.27 L93.76,221.49 L94.63,222.74 L95.49,224.02 L96.36,225.29 L97.23,226.55 L98.09,227.79 L98.96,229.03 L99.83,230.27 L100.69,231.51 L101.56,232.75 L102.43,233.99 L103.29,235.23 L104.16,236.47 L105.03,237.71 L105.89,238.92 L106.76,240.12 L107.63,241.29 L108.49,242.45 L109.36,243.60 L110.23,244.73 L111.09,245.86 L111.96,246.98 L112.83,248.11 L113.69,249.22 L114.56,250.32 L115.43,251.40 L116.29,252.47 L117.16,253.52 L118.03,254.56 L118.89,255.59 L119.76,256.60 L120.63,257.60 L121.49,258.61 L122.36,259.65 L123.22,260.72 L124.09,261.81 L124.96,262.90 L125.82,263.99 L126.69,265.06 L127.56,266.12 L128.42,267.14 L129.29,268.13 L130.16,269.11 L131.02,270.07 L131.89,271.03 L132.76,271.97 L133.62,272.89 L134.49,273.78 L135.36,274.65 L136.22,275.49 L137.09,276.30 L137.96,277.07 L138.82,277.84 L139.69,278.60 L140.56,279.35 L141.42,280.09 L142.29,280.82 L143.16,281.55 L144.02,282.26 L144.89,282.97 L145.76,283.67 L146.62,284.34 L147.49,284.98 L148.35,285.62 L149.22,286.26 L150.09,286.94 L150.95,287.64 L151.82,288.35 L152.69,289.07 L153.55,289.80 L154.42,290.54 L155.29,291.31 L156.15,292.08 L157.02,292.88 L157.89,293.69 L158.75,294.53 L159.62,295.38 L160.49,296.26 L161.35,297.16 L162.22,298.09 L163.09,299.04 L163.95,300.01 L164.82,301.00 L165.69,302.01 L166.55,303.04 L167.42,304.08 L168.29,305.13 L169.15,306.20 L170.02,307.27 L170.89,308.35 L171.75,309.45 L172.62,310.55 L173.48,311.65 L174.35,312.76 L175.22,313.87 L176.08,314.99 L176.95,316.11 L177.82,317.23 L178.68,318.34 L179.55,319.46 L180.42,320.57 L181.28,321.68 L182.15,322.78 L183.02,323.88 L183.88,324.97 L184.75,326.05 L185.62,327.12 L186.48,328.18 L187.35,329.23 L188.22,330.26 L189.08,331.28 L189.95,332.29 L190.82,333.27 L191.68,334.24 L192.55,335.20 L193.42,336.13 L194.28,337.04 L195.15,337.92 L196.02,338.79 L196.88,339.63 L197.75,340.45 L198.62,341.24 L199.48,342.01 L200.35,342.76 L201.21,343.49 L202.08,344.19 L202.95,344.88 L203.81,345.55 L204.68,346.19 L205.55,346.82 L206.41,347.43 L207.28,348.02 L208.15,348.60 L209.01,349.16 L209.88,349.70 L210.75,350.23 L211.61,350.74 L212.48,351.24 L213.35,351.73 L214.21,352.20 L215.08,352.66 L215.95,353.11 L216.81,353.55 L217.68,353.98 L218.55,354.40 L219.41,354.81 L220.28,355.21 L221.15,355.60 L222.01,355.98 L222.88,356.36 L223.75,356.73 L224.61,357.10 L225.48,357.46 L226.34,357.81 L227.21,358.15 L228.08,358.50 L228.94,358.83 L229.81,359.16 L230.68,359.48 L231.54,359.80 L232.41,360.12 L233.28,360.42 L234.14,360.72 L235.01,361.02 L235.88,361.31 L236.74,361.60 L237.61,361.88 L238.48,362.15 L239.34,362.42 L240.21,362.69 L241.08,362.95 L241.94,363.20 L242.81,363.45 L243.68,363.70 L244.54,363.94 L245.41,364.17 L246.28,364.40 L247.14,364.63 L248.01,364.85 L248.88,365.07 L249.74,365.28 L250.61,365.48 L251.47,365.69 L252.34,365.89 L253.21,366.08 L254.07,366.27 L254.94,366.46 L255.81,366.64 L256.67,366.81 L257.54,366.99 L258.41,367.16 L259.27,367.32 L260.14,367.48 L261.01,367.64 L261.87,367.79 L262.74,367.94 L263.61,368.09 L264.47,368.23 L265.34,368.37 L266.21,368.50 L267.07,368.64 L267.94,368.76 L268.81,368.89 L269.67,369.01 L270.54,369.13 L271.41,369.24 L272.27,369.35 L273.14,369.46 L274.01,369.57 L274.87,369.67 L275.74,369.77 L276.61,369.86 L277.47,369.96 L278.34,370.04 L279.20,370.13 L280.07,370.22 L280.94,370.30 L281.80,370.38 L282.67,370.45 L283.54,370.53 L284.40,370.60 L285.27,370.67 L286.14,370.73 L287.00,370.80 L287.87,370.86 L288.74,370.92 L289.60,370.97 L290.47,371.03 L291.34,371.08 L292.20,371.13 L293.07,371.18 L293.94,371.23 L294.80,371.27 L295.67,371.32 L296.54,371.36 L297.40,371.40 L298.27,371.43 L299.14,371.47 L300.00,371.50 L300.87,371.54 L301.74,371.57 L302.60,371.60 L303.47,371.63 L304.33,371.65 L305.20,371.68 L306.07,371.70 L306.93,371.73 L307.80,371.75 L308.67,371.77 L309.53,371.79 L310.40,371.81 L311.27,371.83 L312.13,371.84 L313.00,371.86 L313.87,371.87 L314.73,371.89 L315.60,371.90" fill="none" stroke="#0000ff" stroke-width="1.85" stroke-linejoin="round" stroke-linecap="square"/>
<path d="M56.50,298.20 L57.37,298.12 L58.23,298.06 L59.10,298.00 L59.97,297.95 L60.83,297.92 L61.70,297.89 L62.57,297.87 L63.43,297.87 L64.30,297.87 L65.17,297.89 L66.03,297.92 L66.90,297.97 L67.77,298.02 L68.63,298.09 L69.50,298.17 L70.36,298.27 L71.23,298.37 L72.10,298.49 L72.96,298.61 L73.83,298.75 L74.70,298.91 L75.56,299.08 L76.43,299.27 L77.30,299.48 L78.16,299.71 L79.03,299.98 L79.90,300.27 L80.76,300.59 L81.63,300.94 L82.50,301.31 L83.36,301.70 L84.23,302.11 L85.10,302.54 L85.96,302.98 L86.83,303.45 L87.70,303.93 L88.56,304.43 L89.43,304.94 L90.30,305.46 L91.16,306.01 L92.03,306.59 L92.90,307.18 L93.76,307.80 L94.63,308.43 L95.49,309.07 L96.36,309.73 L97.23,310.38 L98.09,311.04 L98.96,311.70 L99.83,312.36 L100.69,313.04 L101.56,313.72 L102.43,314.41 L103.29,315.11 L104.16,315.81 L105.03,316.53 L105.89,317.25 L106.76,317.98 L107.63,318.73 L108.49,319.49 L109.36,320.27 L110.23,321.06 L111.09,321.86 L111.96,322.67 L112.83,323.47 L113.69,324.26 L114.56,325.04 L115.43,325.79 L116.29,326.53 L117.16,327.24 L118.03,327.91 L118.89,328.56 L119.76,329.17 L120.63,329.77 L121.49,330.34 L122.36,330.89 L123.22,331.43 L124.09,331.95 L124.96,332.45 L125.82,332.95 L126.69,333.44 L127.56,333.92 L128.42,334.38 L129.29,334.80 L130.16,335.21 L131.02,335.60 L131.89,335.99 L132.76,336.38 L133.62,336.77 L134.49,337.17 L135.36,337.59 L136.22,338.04 L137.09,338.49 L137.96,338.95 L138.82,339.40 L139.69,339.85 L140.56,340.30 L141.42,340.76 L142.29,341.23 L143.16,341.70 L144.02,342.18 L144.89,342.67 L145.76,343.17 L146.62,343.68 L147.49,344.20 L148.35,344.74 L149.22,345.28 L150.09,345.83 L150.95,346.23 L151.82,346.64 L152.69,347.04 L153.55,347.44 L154.42,347.84 L155.29,348.23 L156.15,348.62 L157.02,349.01 L157.89,349.40 L158.75,349.79 L159.62,350.17 L160.49,350.55 L161.35,350.93 L162.22,351.31 L163.09,351.68 L163.95,352.05 L164.82,352.42 L165.69,352.79 L166.55,353.15 L167.42,353.51 L168.29,353.87 L169.15,354.22 L170.02,354.58 L170.89,354.93 L171.75,355.27 L172.62,355.62 L173.48,355.96 L174.35,356.30 L175.22,356.63 L176.08,356.96 L176.95,357.29 L177.82,357.62 L178.68,357.94 L179.55,358.26 L180.42,358.58 L181.28,358.89 L182.15,359.20 L183.02,359.51 L183.88,359.81 L184.75,360.12 L185.62,360.41 L186.48,360.71 L187.35,361.00 L188.22,361.28 L189.08,361.57 L189.95,361.85 L190.82,362.12 L191.68,362.40 L192.55,362.66 L193.42,362.93 L194.28,363.19 L195.15,363.45 L196.02,363.70 L196.88,363.95 L197.75,364.20 L198.62,364.44 L199.48,364.68 L200.35,364.92 L201.21,365.15 L202.08,365.38 L202.95,365.60 L203.81,365.82 L204.68,366.03 L205.55,366.24 L206.41,366.45 L207.28,366.65 L208.15,366.85 L209.01,367.04 L209.88,367.23 L210.75,367.42 L211.61,367.60 L212.48,367.78 L213.35,367.95 L214.21,368.11 L215.08,368.28 L215.95,368.44 L216.81,368.59 L217.68,368.74 L218.55,368.89 L219.41,369.03 L220.28,369.17 L221.15,369.30 L222.01,369.43 L222.88,369.55 L223.75,369.68 L224.61,369.79 L225.48,369.91 L226.34,370.02 L227.21,370.12 L228.08,370.23 L228.94,370.33 L229.81,370.42 L230.68,370.51 L231.54,370.60 L232.41,370.69 L233.28,370.77 L234.14,370.85 L235.01,370.93 L235.88,371.00 L236.74,371.07 L237.61,371.14 L238.48,371.20 L239.34,371.26 L240.21,371.32 L241.08,371.38 L241.94,371.43 L242.81,371.48 L243.68,371.53 L244.54,371.58 L245.41,371.62 L246.28,371.66 L247.14,371.70 L248.01,371.74 L248.88,371.77 L249.74,371.81 L250.61,371.84 L251.47,371.86 L252.34,371.89 L253.21,371.92 L254.07,371.94 L254.94,371.96 L255.81,371.98 L256.67,372.00 L257.54,372.01 L258.41,372.03 L259.27,372.04 L260.14,372.05 L261.01,372.06 L261.87,372.07 L262.74,372.08 L263.61,372.09 L264.47,372.09 L265.34,372.10 L266.21,372.10 L267.07,372.11 L267.94,372.11 L268.81,372.11 L269.67,372.11 L270.54,372.11 L271.41,372.11 L272.27,372.11 L273.14,372.11 L274.01,372.11 L274.87,372.11 L275.74,372.10 L276.61,372.10 L277.47,372.10 L278.34,372.09 L279.20,372.09 L280.07,372.09 L280.94,372.09 L281.80,372.08 L282.67,372.08 L283.54,372.08 L284.40,372.08 L285.27,372.07 L286.14,372.07 L287.00,372.07 L287.87,372.07 L288.74,372.07 L289.60,372.07 L290.47,372.07 L291.34,372.08 L292.20,372.08 L293.07,372.08 L293.94,372.09 L294.80,372.10 L295.67,372.10 L296.54,372.11 L297.40,372.12 L298.27,372.13 L299.14,372.14 L300.00,372.16 L300.87,372.17 L301.74,372.19 L302.60,372.21 L303.47,372.23 L304.33,372.25 L305.20,372.27 L306.07,372.30 L306.93,372.32 L307.80,372.35 L308.67,372.38 L309.53,372.42 L310.40,372.45 L311.27,372.49 L312.13,372.53 L313.00,372.57 L313.87,372.61 L314.73,372.66 L315.60,372.71" fill="none" stroke="#800080" stroke-width="1.85" stroke-linejoin="round" stroke-linecap="square"/>
<text x="56.60" y="391.1" text-anchor="middle">0</text>
<text x="99.78" y="391.1" text-anchor="middle">10</text>
<text x="142.97" y="391.1" text-anchor="middle">20</text>
<text x="186.15" y="391.1" text-anchor="middle">30</text>
<text x="229.33" y="391.1" text-anchor="middle">40</text>
<text x="272.52" y="391.1" text-anchor="middle">50</text>
<text x="315.70" y="391.1" text-anchor="middle">60</text>
<text x="53.2" y="378.10" text-anchor="end">0.0</text>
<text x="53.2" y="293.75" text-anchor="end">0.1</text>
<text x="53.2" y="209.40" text-anchor="end">0.2</text>
<text x="53.2" y="125.05" text-anchor="end">0.3</text>
<text x="53.2" y="40.70" text-anchor="end">0.4</text>
<text x="186.2" y="420.1" text-anchor="middle" class="it" font-size="18.8">t</text>
<text transform="translate(15.1,206.8) rotate(-90) scale(0.86,1)">Φ</text>
<text transform="translate(15.1,194.0) rotate(-90)" font-size="17.8">(<tspan class="it">t</tspan>)</text>
<text x="165.4" y="35.4"><tspan class="it">β</tspan><tspan dx="1.9">=</tspan><tspan dx="0.4">24.0</tspan></text>
<text x="88.4" y="64.0"><tspan class="it">β</tspan><tspan dx="1.1">=</tspan><tspan dx="0.4">16.0</tspan></text>
<text x="90.4" y="103.6"><tspan class="it">β</tspan><tspan dx="1.1">=</tspan><tspan dx="0.4">14.0</tspan></text>
<text x="105.5" y="153.6"><tspan class="it">β</tspan><tspan dx="1.1">=</tspan><tspan dx="0.4">12.0</tspan></text>
<text x="92.6" y="212.2"><tspan class="it">β</tspan><tspan dx="1.1">=</tspan><tspan dx="0.4">11.0</tspan></text>
<text x="92.9" y="302.6"><tspan class="it">β</tspan><tspan dx="1.1">=</tspan><tspan dx="0.4">10.5</tspan></text>
<text x="117.7" y="368.0"><tspan class="it">E</tspan>(<tspan class="it">t</tspan>)<tspan dy="-6.6" dx="0.5" font-size="12.5">2</tspan></text>
</svg></body></html>
